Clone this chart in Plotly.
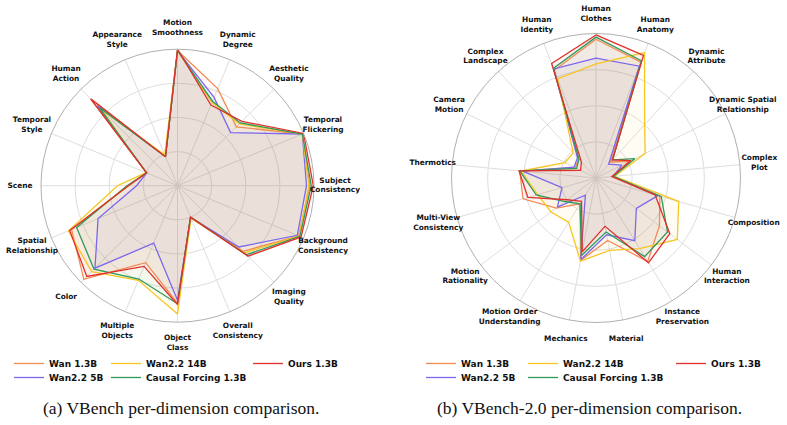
import plotly.graph_objects as go

# ---------------- data ----------------
series_names = ["Wan 1.3B", "Wan2.2 5B", "Wan2.2 14B", "Causal Forcing 1.3B", "Ours 1.3B"]
series_colors = ["#F28A53", "#7B68EE", "#F6C623", "#2E9A5A", "#E0302C"]

vb_dims = ["Motion<br>Smoothness", "Dynamic<br>Degree", "Aesthetic<br>Quality", "Temporal<br>Flickering",
           "Subject<br>Consistency", "Background<br>Consistency", "Imaging<br>Quality", "Overall<br>Consistency",
           "Object<br>Class", "Multiple<br>Objects", "Color", "Spatial<br>Relationship", "Scene",
           "Temporal<br>Style", "Human<br>Action", "Appearance<br>Style"]

vb_wan13 = [0.99, 0.77, 0.61, 0.99, 0.97, 0.96, 0.68, 0.25, 0.86, 0.61, 0.97, 0.84, 0.36, 0.245, 0.895, 0.23]
vb_wan5 = [0.99, 0.70, 0.55, 0.99, 0.945, 0.95, 0.635, 0.25, 0.84, 0.455, 0.855, 0.63, 0.30, 0.245, 0.83, 0.23]
vb_wan14 = [0.99, 0.66, 0.64, 0.99, 0.962, 0.965, 0.695, 0.26, 0.94, 0.75, 0.89, 0.865, 0.44, 0.25, 0.79, 0.245]
vb_causal = [0.99, 0.67, 0.65, 0.99, 0.98, 0.97, 0.715, 0.25, 0.865, 0.74, 0.865, 0.80, 0.37, 0.245, 0.81, 0.23]
vb_ours = [1.0, 0.64, 0.667, 1.0, 0.995, 0.98, 0.73, 0.25, 0.87, 0.64, 0.94, 0.855, 0.36, 0.245, 0.90, 0.23]

vb2_dims = ["Human<br>Clothes", "Human<br>Anatomy", "Dynamic<br>Attribute", "Dynamic Spatial<br>Relationship",
            "Complex<br>Plot", "Composition", "Human<br>Interaction", "Instance<br>Preservation", "Material",
            "Mechanics", "Motion Order<br>Understanding", "Motion<br>Rationality", "Multi-View<br>Consistency",
            "Thermotics", "Camera<br>Motion", "Complex<br>Landscape", "Human<br>Identity"]

vb2_wan13 = [0.96, 0.86, 0.15, 0.26, 0.12, 0.46, 0.55, 0.68, 0.44, 0.58, 0.21, 0.345, 0.525, 0.53, 0.16, 0.18, 0.80]
vb2_wan5 = [0.83, 0.83, 0.13, 0.20, 0.12, 0.445, 0.35, 0.51, 0.40, 0.575, 0.14, 0.335, 0.245, 0.51, 0.17, 0.19, 0.81]
vb2_wan14 = [0.79, 0.93, 0.50, 0.38, 0.13, 0.595, 0.705, 0.575, 0.51, 0.585, 0.36, 0.39, 0.42, 0.52, 0.24, 0.235, 0.735]
vb2_causal = [0.975, 0.87, 0.17, 0.30, 0.12, 0.47, 0.62, 0.64, 0.38, 0.545, 0.21, 0.27, 0.43, 0.53, 0.15, 0.175, 0.815]
vb2_ours = [0.99, 0.91, 0.17, 0.27, 0.11, 0.425, 0.64, 0.69, 0.34, 0.52, 0.19, 0.25, 0.49, 0.535, 0.12, 0.15, 0.85]

captions = ["(a) VBench per-dimension comparison.", "(b) VBench-2.0 per-dimension comparison."]

# ---------------- figure ----------------
W, H = 787, 425
fig = go.Figure()


def rgba(hexc, a):
    h = hexc.lstrip("#")
    return "rgba(%d,%d,%d,%s)" % (int(h[0:2], 16), int(h[2:4], 16), int(h[4:6], 16), a)


def dom_c(cx, cy, r):
    return dict(x=[(cx - r) / W, (cx + r) / W], y=[1 - (cy + r) / H, 1 - (cy - r) / H])


# panel geometry: centre, ring radius, label radius (px)
panels = [
    dict(sp="polar", lsp="polar3", dims=vb_dims, vals=[vb_wan13, vb_wan5, vb_wan14, vb_causal, vb_ours],
         c=(177.5, 185.7), R=136.5, LR=157.5, leg_first=1),
    dict(sp="polar2", lsp="polar4", dims=vb2_dims, vals=[vb2_wan13, vb2_wan5, vb2_wan14, vb2_causal, vb2_ours],
         c=(596.0, 178.0), R=144.5, LR=164.0, leg_first=6),
]

# legend slots (text-left x, row y) in px, per series order
leg_text_x = [[46, 46, 143, 143, 285], [458, 458, 560, 560, 708]]
leg_row_y = [363, 377, 363, 377, 363]

for pi, P in enumerate(panels):
    for name, col, v in zip(series_names, series_colors, P["vals"]):
        fig.add_trace(go.Scatterpolar(r=v, theta=P["dims"], subplot=P["sp"], mode="none", fill="toself",
                                      fillcolor=rgba(col, 0.05), showlegend=False, hoverinfo="skip"))
    for i, (name, col, v) in enumerate(zip(series_names, series_colors, P["vals"])):
        k = P["leg_first"] + i
        lk = "legend" if k == 1 else "legend%d" % k
        fig.add_trace(go.Scatterpolar(r=v + v[:1], theta=P["dims"] + P["dims"][:1], subplot=P["sp"],
                                      mode="lines", line=dict(color=col, width=1.3), name=name,
                                      legend=lk, showlegend=True))
        fig.layout[lk] = dict(x=(leg_text_x[pi][i] - 37) / W, y=1 - (leg_row_y[i] - 14) / H,
                              xanchor="left", yanchor="top", orientation="v",
                              font=dict(family="DejaVu Sans", size=9, color="#111111", weight="bold"),
                              bgcolor="rgba(0,0,0,0)")
    # dimension labels on an overlaid, invisible polar whose ring is the label circle
    fig.add_trace(go.Scatterpolar(r=[1.0] * len(P["dims"]), theta=P["dims"], subplot=P["lsp"], mode="text",
                                  text=P["dims"], textposition="middle center", cliponaxis=False,
                                  textfont=dict(family="DejaVu Sans", size=7.4, color="#111111", weight="bold"),
                                  showlegend=False, hoverinfo="skip"))

polar_common = dict(
    bgcolor="white",
    radialaxis=dict(range=[0, 1], tickvals=[0.25, 0.5, 0.75, 1.0], showticklabels=False, ticks="",
                    showline=False, gridcolor="#dedede", gridwidth=0.8),
    angularaxis=dict(direction="clockwise", rotation=90, showticklabels=False, ticks="",
                     showline=True, linecolor="#b0b0b0", linewidth=1, gridcolor="#dedede", gridwidth=0.8),
)
label_polar = dict(
    bgcolor="rgba(0,0,0,0)",
    radialaxis=dict(range=[0, 1], visible=False, showgrid=False),
    angularaxis=dict(direction="clockwise", rotation=90, showticklabels=False, ticks="", showline=False,
                     showgrid=False),
)

fig.update_layout(
    width=W, height=H, margin=dict(l=0, r=0, t=0, b=0),
    paper_bgcolor="white", plot_bgcolor="white",
    polar=dict(domain=dom_c(*panels[0]["c"], panels[0]["R"]), **polar_common),
    polar2=dict(domain=dom_c(*panels[1]["c"], panels[1]["R"]), **polar_common),
    polar3=dict(domain=dom_c(*panels[0]["c"], panels[0]["LR"]), **label_polar),
    polar4=dict(domain=dom_c(*panels[1]["c"], panels[1]["LR"]), **label_polar),
)

cap_x = [181, 589]
for t, cx in zip(captions, cap_x):
    fig.add_annotation(text=t, x=cx / W, y=1 - 408 / H, xref="paper", yref="paper", showarrow=False,
                       xanchor="center", yanchor="middle",
                       font=dict(family="Liberation Serif", size=17.5, color="#111111"))

fig.write_html("out.html")
